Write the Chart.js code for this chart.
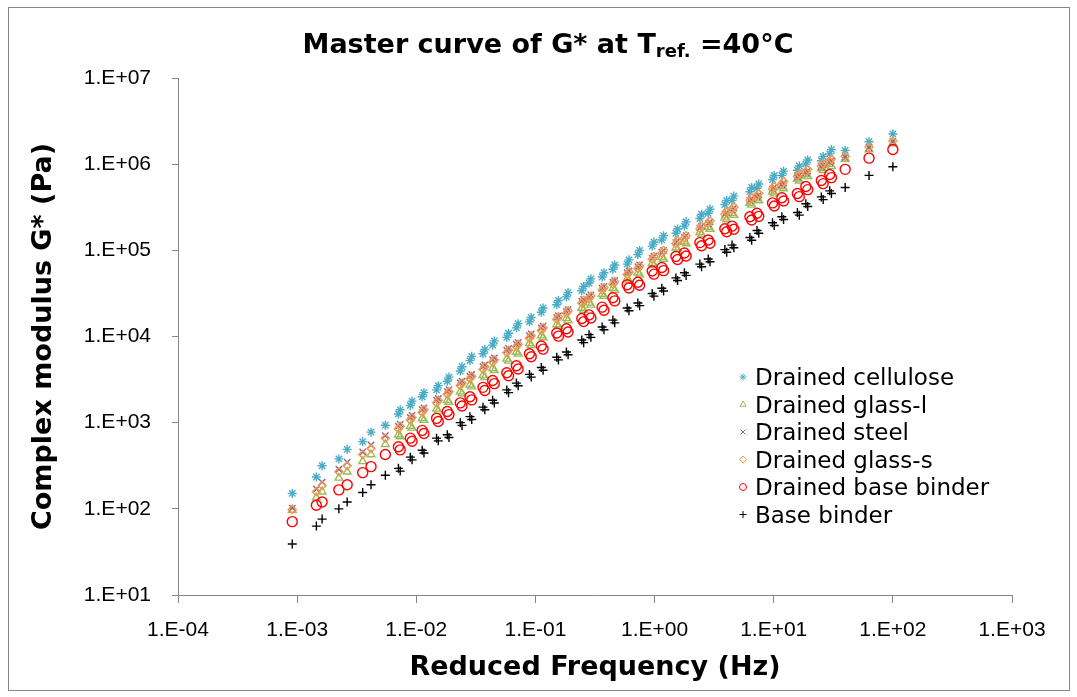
<!DOCTYPE html>
<html lang="en">
    <head>
        <meta charset="utf-8" />
        <title>Master curve of G*</title>
        <style>
            body { margin: 0; background: #fff; }
            #marco { position: absolute; left: 8px; top: 7px; width: 1060px; height: 682px; border: 1px solid #868686; }
            #grafico { position: absolute; left: 0; top: 0; }
        </style>
    </head>
    <body>
        <div id="marco"></div>
        <canvas id="grafico" width="1077" height="697"></canvas>

        <script src="https://cdn.jsdelivr.net/npm/chart.js"></script>

        <script>
            // reduced frequency (Hz), shared by every series
            const freq = [0.00091, 0.00145, 0.00162, 0.00224, 0.00263, 0.00355, 0.00417, 0.0055, 0.00708, 0.00891,
                0.0112, 0.0148, 0.0182, 0.0234, 0.0282, 0.0363, 0.0437, 0.0575, 0.0692, 0.0891,
                0.112, 0.151, 0.182, 0.245, 0.282, 0.363, 0.447, 0.589, 0.724, 0.955,
                1.15, 1.51, 1.78, 2.40, 2.82, 3.89, 4.47, 6.31, 7.24, 9.77,
                11.7, 15.8, 18.6, 25.1, 29.5, 39.8, 63.1, 100];

            // complex modulus G* (Pa)
            const cellulose = [151, 234, 316, 380, 490, 603, 776, 933, 1259, 1585,
                1995, 2400, 3020, 3980, 5250, 6310, 7940, 9770, 12600, 14800,
                19100, 23400, 28800, 33900, 41700, 49000, 60300, 69200, 89100, 112000,
                132000, 158000, 191000, 234000, 269000, 339000, 380000, 479000, 525000, 661000,
                741000, 851000, 1000000, 1096000, 1318000, 1445000, 1820000, 2239000];
            const glassL = [97, 135, 158, 229, 269, 355, 427, 562, 724, 912,
                1122, 1445, 1820, 2291, 2754, 3548, 4266, 5495, 6607, 8318,
                10230, 13800, 16220, 21380, 24550, 30900, 36310, 46770, 54950, 70790,
                83180, 107200, 125900, 162200, 186200, 239900, 269200, 354800, 398100, 478600,
                549500, 676100, 758600, 891300, 1000000, 1148000, 1479000, 1738000];
            const steel = [102, 170, 204, 288, 347, 457, 550, 708, 912, 1148,
                1413, 1820, 2291, 2884, 3467, 4467, 5370, 6918, 8128, 10230,
                12590, 16600, 19500, 25700, 28840, 36310, 42660, 54950, 64570, 81280,
                95500, 123000, 141300, 182000, 204200, 263000, 295100, 380200, 416900, 512900,
                575400, 707900, 794300, 933300, 1047000, 1202000, 1549000, 1820000];
            const glassS = [98, 158, 186, 269, 316, 427, 501, 661, 851, 1072,
                1318, 1698, 2138, 2692, 3236, 4169, 5012, 6457, 7586, 9550,
                11750, 15850, 18620, 24550, 27540, 34670, 40740, 52480, 61660, 79430,
                93330, 120200, 138000, 177800, 204200, 263000, 295100, 380200, 426600, 512900,
                588800, 724400, 812800, 955000, 1072000, 1230000, 1585000, 1862000];
            const drainedBase = [71, 110, 120, 166, 190, 263, 309, 427, 525, 661,
                813, 1122, 1349, 1698, 1995, 2570, 3090, 3800, 4570, 6310,
                7760, 10960, 12300, 16200, 17800, 21900, 28200, 39800, 42700, 57500,
                63100, 85100, 93300, 123000, 132000, 178000, 191000, 245000, 269000, 355000,
                407000, 457000, 550000, 646000, 759000, 871000, 1175000, 1479000];
            const baseBinder = [39, 63, 76, 100, 120, 155, 190, 245, 295, 398,
                479, 661, 724, 1000, 1175, 1514, 1820, 2400, 2880, 3630,
                4370, 5750, 6610, 9120, 10500, 12900, 15500, 21400, 24500, 31600,
                36300, 47900, 55000, 69200, 79400, 102000, 115000, 141000, 170000, 209000,
                245000, 275000, 347000, 417000, 490000, 537000, 741000, 933000];

            // overlapping temperatures: second run of points in the middle range
            const freqB = [0.00733, 0.00922, 0.0116, 0.0153, 0.0188, 0.0242, 0.0292, 0.0376, 0.0452, 0.0595,
                0.0716, 0.0922, 0.116, 0.156, 0.188, 0.254, 0.292, 0.376, 0.463, 0.610,
                0.749, 0.988, 1.19, 1.56, 1.84, 2.48, 2.92, 4.03, 4.63, 6.53,
                7.49, 10.1, 12.1, 16.4, 19.3, 26.0, 30.5];
            const celluloseB = [1410, 1780, 2230, 2690, 3380, 4460, 5880, 7070, 8890, 10900,
                14100, 16600, 21400, 26200, 32300, 38000, 46700, 54900, 67500, 77500,
                99800, 125000, 148000, 177000, 214000, 262000, 301000, 380000, 426000, 536000,
                588000, 740000, 830000, 953000, 1120000, 1228000, 1476000];
            const glassLB = [690, 870, 1070, 1370, 1730, 2180, 2620, 3370, 4050, 5220,
                6280, 7900, 9720, 13100, 15400, 20300, 23300, 29400, 34500, 44400,
                52200, 67300, 79000, 102000, 120000, 154000, 177000, 228000, 256000, 337000,
                378000, 455000, 522000, 642000, 721000, 847000, 950000];
            const steelB = [960, 1210, 1480, 1910, 2410, 3030, 3640, 4690, 5640, 7260,
                8530, 10700, 13200, 17400, 20500, 27000, 30300, 38100, 44800, 57700,
                67800, 85300, 100000, 129000, 148000, 191000, 214000, 276000, 310000, 399000,
                438000, 539000, 604000, 743000, 834000, 980000, 1099000];
            const glassSB = [910, 1150, 1410, 1820, 2290, 2880, 3460, 4460, 5360, 6910,
                8120, 10200, 12600, 17000, 19900, 26300, 29500, 37100, 43600, 56200,
                66000, 85000, 99900, 129000, 148000, 190000, 219000, 281000, 316000, 407000,
                457000, 549000, 630000, 775000, 870000, 1022000, 1147000];
            const drainedBaseB = [483, 608, 748, 1030, 1240, 1560, 1840, 2360, 2840, 3500,
                4200, 5810, 7140, 10100, 11300, 14900, 16400, 20200, 25900, 36600,
                39300, 52900, 58100, 78300, 85800, 113000, 121000, 164000, 176000, 225000,
                248000, 327000, 374000, 420000, 506000, 594000, 698000];
            const baseBinderB = [274, 370, 445, 615, 673, 930, 1090, 1410, 1690, 2230,
                2680, 3380, 4060, 5350, 6150, 8480, 9770, 12000, 14400, 19900,
                22800, 29400, 33800, 44600, 51200, 64400, 73800, 94900, 107000, 131000,
                158000, 194000, 228000, 256000, 323000, 388000, 456000];

            const seriesNames = ["Drained cellulose", "Drained glass-l", "Drained steel", "Drained glass-s", "Drained base binder", "Base binder"];

            // axis ticks
            const xTicks = [1e-4, 1e-3, 1e-2, 1e-1, 1, 10, 100, 1000];
            const xTickLabels = ["1.E-04", "1.E-03", "1.E-02", "1.E-01", "1.E+00", "1.E+01", "1.E+02", "1.E+03"];
            const yTicks = [10, 100, 1e3, 1e4, 1e5, 1e6, 1e7];
            const yTickLabels = ["1.E+01", "1.E+02", "1.E+03", "1.E+04", "1.E+05", "1.E+06", "1.E+07"];

            function puntos(xs, ys) {
                return xs.map(function (f, i) { return { x: f, y: ys[i] }; });
            }

            const estilos = [
                { color: "#4BACC6", pointStyle: "star", radius: 4.5 },
                { color: "#9BBB59", pointStyle: "triangle", radius: 4.5 },
                { color: "#8064A2", pointStyle: "crossRot", radius: 4.5 },
                { color: "#F79646", pointStyle: "rectRot", radius: 4 },
                { color: "#FF0000", pointStyle: "circle", radius: 5 },
                { color: "#000000", pointStyle: "cross", radius: 4.5 },
            ];
            const valores = [cellulose, glassL, steel, glassS, drainedBase, baseBinder];
            const valoresB = [celluloseB, glassLB, steelB, glassSB, drainedBaseB, baseBinderB];

            const datasets = valores.map(function (v, i) {
                return {
                    label: seriesNames[i],
                    data: puntos(freq, v).concat(puntos(freqB, valoresB[i])),
                    showLine: false,
                    pointStyle: estilos[i].pointStyle,
                    pointRadius: estilos[i].radius,
                    pointHoverRadius: estilos[i].radius,
                    pointBorderColor: estilos[i].color,
                    pointBackgroundColor: "rgba(0,0,0,0)",
                    pointBorderWidth: 1.4,
                    borderColor: estilos[i].color,
                    backgroundColor: "rgba(0,0,0,0)",
                    order: valores.length - i,
                };
            });

            const fuenteTitulo = "DejaVu Sans";

            // title with subscript, drawn by hand
            const tituloPlugin = {
                id: "titulo",
                afterDraw: function (chart) {
                    const ctx = chart.ctx;
                    ctx.save();
                    ctx.fillStyle = "#000";
                    ctx.textBaseline = "alphabetic";
                    const big = "bold 27px " + fuenteTitulo;
                    const small = "bold 18px " + fuenteTitulo;
                    const a = "Master curve of G* at T", b = "ref.", c = " =40°C";
                    ctx.font = big;
                    const wa = ctx.measureText(a).width, wc = ctx.measureText(c).width;
                    ctx.font = small;
                    const wb = ctx.measureText(b).width;
                    let x = 548 - (wa + wb + wc) / 2;
                    const y = 53;
                    ctx.font = big;
                    ctx.fillText(a, x, y);
                    x += wa;
                    ctx.font = small;
                    ctx.fillText(b, x, y + 4);
                    x += wb;
                    ctx.font = big;
                    ctx.fillText(c, x, y);
                    ctx.restore();
                },
            };

            // legend inside the plot area
            const leyendaPlugin = {
                id: "leyenda",
                afterDraw: function (chart) {
                    const ctx = chart.ctx;
                    ctx.save();
                    ctx.font = "23px DejaVu Sans";
                    ctx.textBaseline = "alphabetic";
                    seriesNames.forEach(function (nombre, i) {
                        const yb = 385 + i * 27.5;
                        ctx.strokeStyle = estilos[i].color;
                        ctx.fillStyle = "rgba(0,0,0,0)";
                        ctx.lineWidth = 1;
                        Chart.helpers.drawPoint(ctx, { pointStyle: estilos[i].pointStyle, radius: 3.5, borderWidth: 1, rotation: 0 }, 743, yb - 8);
                        ctx.fillStyle = "#000";
                        ctx.fillText(nombre, 755, yb);
                    });
                    ctx.restore();
                },
            };

            const fuenteTicks = { family: "Liberation Sans", size: 21 };

            new Chart(document.getElementById("grafico").getContext("2d"), {
                type: "scatter",
                data: { datasets: datasets },
                plugins: [tituloPlugin, leyendaPlugin],
                options: {
                    responsive: false,
                    animation: false,
                    layout: { padding: { left: 26, right: 65, top: 78, bottom: 10 } },
                    plugins: {
                        legend: { display: false },
                        tooltip: { enabled: false },
                    },
                    scales: {
                        x: {
                            type: "logarithmic",
                            min: 1e-4,
                            max: 1e3,
                            afterBuildTicks: function (s) { s.ticks = xTicks.map(function (v) { return { value: v }; }); },
                            afterFit: function (s) { s.height = 92; },
                            ticks: {
                                autoSkip: false,
                                maxRotation: 0,
                                padding: 15,
                                color: "#000",
                                font: fuenteTicks,
                                callback: function (v, i) { return xTickLabels[i]; },
                            },
                            grid: { drawOnChartArea: false, drawTicks: true, tickLength: 8, color: "#868686" },
                            border: { color: "#868686", width: 1 },
                            title: {
                                display: true,
                                text: "Reduced Frequency (Hz)",
                                color: "#000",
                                font: { family: fuenteTitulo, weight: "bold", size: 27 },
                                padding: { top: 0, bottom: 3 },
                            },
                        },
                        y: {
                            type: "logarithmic",
                            min: 10,
                            max: 1e7,
                            afterBuildTicks: function (s) { s.ticks = yTicks.map(function (v) { return { value: v }; }); },
                            afterFit: function (s) { s.width = 152; },
                            ticks: {
                                autoSkip: false,
                                padding: 21,
                                color: "#000",
                                font: fuenteTicks,
                                callback: function (v, i) { return yTickLabels[i]; },
                            },
                            grid: { drawOnChartArea: false, drawTicks: true, tickLength: 6, color: "#868686" },
                            border: { color: "#868686", width: 1 },
                            title: {
                                display: true,
                                text: "Complex modulus G* (Pa)",
                                color: "#000",
                                font: { family: fuenteTitulo, weight: "bold", size: 27 },
                                padding: { top: 2, bottom: 0 },
                            },
                        },
                    },
                },
            });
        </script>
    </body>
</html>
